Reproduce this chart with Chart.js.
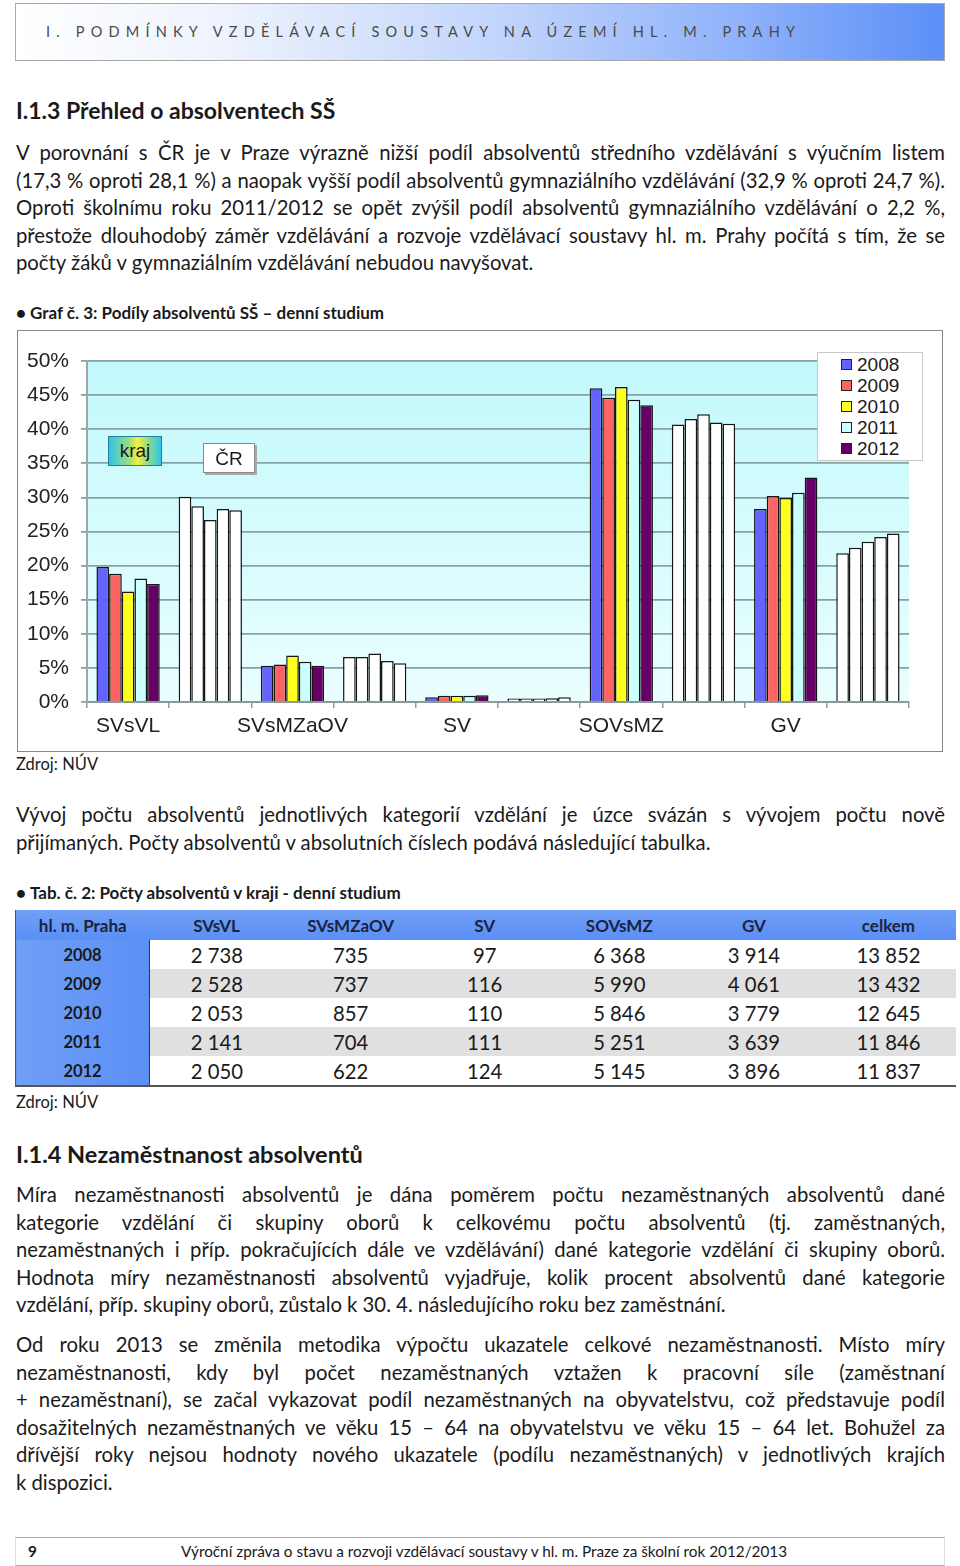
<!DOCTYPE html>
<html lang="cs">
<head>
<meta charset="utf-8">
<title>Podíly absolventů SŠ</title>
<script src="https://cdn.jsdelivr.net/npm/chart.js@4.4.0/dist/chart.umd.min.js"></script>
<style>
  html, body { margin: 0; padding: 0; background: #fff; }
  body { width: 960px; height: 1566px; position: relative; overflow: hidden;
         font-family: 'Lato', 'Noto Sans', sans-serif; color: #1a1a1a; }
  .abs { position: absolute; }
  .band { left: 15px; top: 3px; width: 928px; height: 56px; border: 1px solid #a9a9a9;
          background: linear-gradient(to right, #ffffff 0%, #eef3fd 22%, #c2d5fb 52%, #8fb2fa 78%, #5b8ff7 100%); }
  .band span { position: absolute; left: 30px; top: 19px; font-size: 14.5px; letter-spacing: 6.2px; color: #4a4a4a; }
  .h { left: 16px; font-weight: 700; font-size: 23px; }
  .par { left: 16px; width: 929px; font-size: 20.3px; }
  .ln { height: 27.5px; line-height: 27.5px; text-align: justify; text-align-last: justify; white-space: nowrap; }
  .ln.last { text-align-last: left; }
  .cap { left: 16px; font-weight: 700; font-size: 17px; }
  .cap b { display: inline-block; width: 14px; }
  .src { left: 16px; font-size: 16.5px; }
  #chartBox { left: 17px; top: 330px; width: 924px; height: 420px; border: 1px solid #888; }
  #chartBox canvas { position: absolute; left: 0; top: 0; }
  .legend { left: 817px; top: 352px; width: 104px; height: 107px; background: #fff; border: 1px solid #c8c8c8;
            font-family: 'Liberation Sans', Arial, sans-serif; font-size: 19px; }
  .legend div { position: absolute; left: 23px; height: 21px; line-height: 21px; }
  .legend i { display: inline-block; width: 9px; height: 9px; border: 1px solid #222; margin-right: 5px; vertical-align: 1px; }
  .tag { font-family: 'Liberation Sans', Arial, sans-serif; font-size: 19px; text-align: center; }
  table { border-collapse: collapse; table-layout: fixed; }
  td, th { padding: 0; text-align: center; height: 29px; }
  th { background: linear-gradient(#6f9ff6, #5b8ff5); font-weight: 700; font-size: 17px; color: #1b2340; height: 30px; }
  td { font-size: 20.3px; }
  td.y { background: linear-gradient(to right, #6f9ff6, #5b8ff5); font-weight: 700; font-size: 16.5px; border-right: 1px solid #333; }
  tr.g td { background: #e0e0e0; }
  tr.g td.y { background: linear-gradient(to right, #6f9ff6, #5b8ff5); }
  .foot { left: 15px; top: 1537px; width: 928px; height: 27px; border-top: 1px solid #aaa; border-bottom: 1px solid #aaa;
          border-left: 1px solid #ddd; border-right: 1px solid #ddd; font-size: 15.3px; line-height: 27px; }
</style>
</head>
<body>

<div class="abs band"><span>I. PODMÍNKY VZDĚLÁVACÍ SOUSTAVY NA ÚZEMÍ HL. M. PRAHY</span></div>

<div class="abs h" style="top:96px">I.1.3 Přehled o absolventech SŠ</div>

<div class="abs par" style="top:139px">
  <div class="ln">V porovnání s ČR je v Praze výrazně nižší podíl absolventů středního vzdělávání s výučním listem</div>
  <div class="ln">(17,3 % oproti 28,1 %) a naopak vyšší podíl absolventů gymnaziálního vzdělávání (32,9 % oproti 24,7 %).</div>
  <div class="ln">Oproti školnímu roku 2011/2012 se opět zvýšil podíl absolventů gymnaziálního vzdělávání o 2,2 %,</div>
  <div class="ln">přestože dlouhodobý záměr vzdělávání a rozvoje vzdělávací soustavy hl. m. Prahy počítá s tím, že se</div>
  <div class="ln last">počty žáků v gymnaziálním vzdělávání nebudou navyšovat.</div>
</div>

<div class="abs cap" style="top:302px"><b>•</b>Graf č. 3: Podíly absolventů SŠ – denní studium</div>

<div class="abs" id="chartBox"><canvas id="chart" width="924" height="420"></canvas></div>

<div class="abs tag" style="left:108px;top:436px;width:52px;height:28px;line-height:28px;border:1px solid #2a7a9a;
  background:linear-gradient(to right,#2fc4ea 0%,#9fe07a 40%,#f4f03a 55%,#8fdc8a 75%,#2fc4ea 100%);">kraj</div>
<div class="abs tag" style="left:203px;top:443px;width:50px;height:28px;line-height:30px;border:1px solid #888;
  background:#fff;box-shadow:2px 2px 0 #aaa;">ČR</div>

<div class="abs legend" id="legend"></div>

<div class="abs src" style="top:754px">Zdroj: NÚV</div>

<div class="abs par" style="top:801px">
  <div class="ln">Vývoj počtu absolventů jednotlivých kategorií vzdělání je úzce svázán s vývojem počtu nově</div>
  <div class="ln last">přijímaných. Počty absolventů v absolutních číslech podává následující tabulka.</div>
</div>

<div class="abs cap" style="top:882px"><b>•</b>Tab. č. 2: Počty absolventů v kraji - denní studium</div>

<table class="abs" id="tab" style="left:15px;top:910px;width:941px;border-bottom:2px solid #555;border-left:1px solid #555;"></table>

<div class="abs src" style="top:1092px">Zdroj: NÚV</div>

<div class="abs h" style="top:1140px;font-size:23.5px">I.1.4 Nezaměstnanost absolventů</div>

<div class="abs par" style="top:1181px">
  <div class="ln">Míra nezaměstnanosti absolventů je dána poměrem počtu nezaměstnaných absolventů dané</div>
  <div class="ln">kategorie vzdělání či skupiny oborů k celkovému počtu absolventů (tj. zaměstnaných,</div>
  <div class="ln">nezaměstnaných i příp. pokračujících dále ve vzdělávání) dané kategorie vzdělání či skupiny oborů.</div>
  <div class="ln">Hodnota míry nezaměstnanosti absolventů vyjadřuje, kolik procent absolventů dané kategorie</div>
  <div class="ln last">vzdělání, příp. skupiny oborů, zůstalo k 30. 4. následujícího roku bez zaměstnání.</div>
</div>

<div class="abs par" style="top:1331px">
  <div class="ln">Od roku 2013 se změnila metodika výpočtu ukazatele celkové nezaměstnanosti. Místo míry</div>
  <div class="ln">nezaměstnanosti, kdy byl počet nezaměstnaných vztažen k pracovní síle (zaměstnaní</div>
  <div class="ln">+ nezaměstnaní), se začal vykazovat podíl nezaměstnaných na obyvatelstvu, což představuje podíl</div>
  <div class="ln">dosažitelných nezaměstnaných ve věku 15 – 64 na obyvatelstvu ve věku 15 – 64 let. Bohužel za</div>
  <div class="ln">dřívější roky nejsou hodnoty nového ukazatele (podílu nezaměstnaných) v jednotlivých krajích</div>
  <div class="ln last">k dispozici.</div>
</div>

<div class="abs foot">
  <span style="position:absolute;left:12px;font-weight:700;">9</span>
  <span style="position:absolute;left:165px;">Výroční zpráva o stavu a rozvoji vzdělávací soustavy v hl. m. Praze za školní rok 2012/2013</span>
</div>

<script>
// ---- data ----
const categories = ['SVsVL', '', 'SVsMZaOV', '', 'SV', '', 'SOVsMZ', '', 'GV', ''];
const groups     = ['kraj', 'ČR', 'kraj', 'ČR', 'kraj', 'ČR', 'kraj', 'ČR', 'kraj', 'ČR'];
const years      = ['2008', '2009', '2010', '2011', '2012'];

// podíly v %, pořadí = categories
const share2008 = [19.8, 30.1, 5.3, 6.6, 0.7, 0.5, 46.0, 40.7, 28.3, 21.8];
const share2009 = [18.8, 28.7, 5.5, 6.6, 0.9, 0.5, 44.6, 41.5, 30.2, 22.6];
const share2010 = [16.2, 26.7, 6.8, 7.1, 0.9, 0.5, 46.2, 42.2, 29.9, 23.5];
const share2011 = [18.1, 28.3, 5.9, 6.0, 0.9, 0.55, 44.3, 41.0, 30.7, 24.2];
const share2012 = [17.3, 28.1, 5.3, 5.7, 1.0, 0.7, 43.5, 40.8, 32.9, 24.7];

const yTicks = [0, 5, 10, 15, 20, 25, 30, 35, 40, 45, 50];

// tabulka
const tabHead  = ['hl. m. Praha', 'SVsVL', 'SVsMZaOV', 'SV', 'SOVsMZ', 'GV', 'celkem'];
const tabYears = ['2008', '2009', '2010', '2011', '2012'];
const tabSVsVL    = ['2 738', '2 528', '2 053', '2 141', '2 050'];
const tabSVsMZaOV = ['735', '737', '857', '704', '622'];
const tabSV       = ['97', '116', '110', '111', '124'];
const tabSOVsMZ   = ['6 368', '5 990', '5 846', '5 251', '5 145'];
const tabGV       = ['3 914', '4 061', '3 779', '3 639', '3 896'];
const tabCelkem   = ['13 852', '13 432', '12 645', '11 846', '11 837'];

// ---- styles ----
const yearColors = ['#6363ff', '#ff6464', '#ffff1e', '#ccffff', '#660066'];
const series = [share2008, share2009, share2010, share2011, share2012];

// ---- table ----
(function buildTable() {
  const widths = [134, 134, 134, 134, 135, 134, 135];
  let html = '<colgroup>' + widths.map(w => `<col style="width:${w}px">`).join('') + '</colgroup>';
  html += '<tr>' + tabHead.map(h => `<th>${h}</th>`).join('') + '</tr>';
  tabYears.forEach((y, i) => {
    const cells = [tabSVsVL[i], tabSVsMZaOV[i], tabSV[i], tabSOVsMZ[i], tabGV[i], tabCelkem[i]];
    html += `<tr class="${i % 2 ? 'g' : ''}"><td class="y">${y}</td>` + cells.map(c => `<td>${c}</td>`).join('') + '</tr>';
  });
  document.getElementById('tab').innerHTML = html;
})();

// ---- legend ----
(function buildLegend() {
  const el = document.getElementById('legend');
  years.forEach((y, i) => {
    const d = document.createElement('div');
    d.style.top = (1 + i * 21) + 'px';
    d.innerHTML = `<i style="background:${yearColors[i]}"></i>${y}`;
    el.appendChild(d);
  });
})();

// ---- chart ----
const plotBg = {
  id: 'plotBg',
  beforeDraw(chart) {
    const { ctx, chartArea: a } = chart;
    const g = ctx.createLinearGradient(0, a.top, 0, a.bottom);
    g.addColorStop(0, '#c2f9fd');
    g.addColorStop(1, '#eafefe');
    ctx.save();
    ctx.fillStyle = g;
    ctx.fillRect(a.left, a.top, a.right - a.left, a.bottom - a.top);
    ctx.restore();
  }
};

new Chart(document.getElementById('chart'), {
  type: 'bar',
  data: {
    labels: categories,
    datasets: years.map((y, i) => ({
      label: y,
      data: series[i],
      backgroundColor: groups.map(g => g === 'kraj' ? yearColors[i] : '#ffffff'),
      borderColor: '#161616',
      borderWidth: 1.5,
      borderSkipped: 'bottom',
      categoryPercentage: 0.77,
      barPercentage: 1.0,
    }))
  },
  options: {
    responsive: false,
    animation: false,
    layout: { padding: { left: 0, right: 33, top: 30, bottom: 0 } },
    plugins: { legend: { display: false }, tooltip: { enabled: false } },
    scales: {
      x: {
        offset: true,
        grid: { offset: true, drawOnChartArea: false, color: '#9a9a9a', lineWidth: 1.5, tickLength: 6 },
        border: { color: '#8a9a9a', width: 2 },
        ticks: { color: '#222', padding: 6, maxRotation: 0, autoSkip: false,
                 font: { family: "'Liberation Sans', Arial, sans-serif", size: 21 } },
        afterFit: s => { s.height = 49; }
      },
      y: {
        min: 0, max: 50,
        afterBuildTicks: s => { s.ticks = yTicks.map(v => ({ value: v })); },
        grid: { color: '#86a2a2', lineWidth: 1.8, tickLength: 6 },
        border: { color: '#9aa', width: 2 },
        ticks: { color: '#222', padding: 12, callback: v => v + '%',
                 font: { family: "'Liberation Sans', Arial, sans-serif", size: 21 } },
        afterFit: s => { s.width = 69; }
      }
    }
  },
  plugins: [plotBg]
});
</script>
</body>
</html>
